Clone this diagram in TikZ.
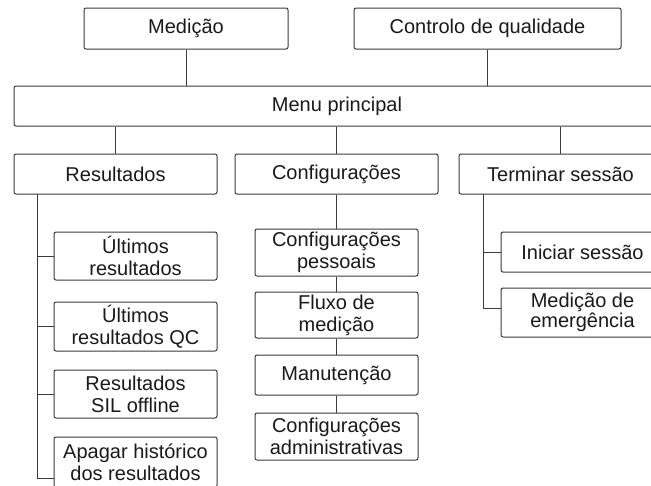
\documentclass[tikz,border=0pt]{standalone}
\usepackage{fontspec}
\setmainfont{Liberation Sans}
\definecolor{linec}{HTML}{3A3A3A}
\definecolor{txtc}{HTML}{1A1A1A}
\begin{document}
\begin{tikzpicture}[x=1pt,y=-1pt,
  box/.style={draw=linec, rounded corners=2pt, line width=1pt, align=center,
    inner sep=0pt, text=txtc, font=\fontsize{20}{22}\selectfont},
  tight/.style={font=\fontsize{20}{17}\selectfont},
  conn/.style={draw=linec, line width=1pt}]
\useasboundingbox (0,0) rectangle (651,485);
\clip (0,0) rectangle (651,485);
\fill[white] (0,0) rectangle (651,485);
% top row
\node[box, minimum width=204pt, minimum height=41pt] (med) at (186,28.5) {Medição};
\node[box, minimum width=267pt, minimum height=41pt] (qc) at (487.5,28.5) {Controlo de qualidade};
\node[box, minimum width=646pt, minimum height=40pt] (menu) at (337,106) {Menu principal};
% second row
\node[box, minimum width=203pt, minimum height=40pt] (res) at (115.5,174) {Resultados};
\node[box, minimum width=203pt, minimum height=40pt] (conf) at (336.5,174) {Configurações};
\node[box, minimum width=203pt, minimum height=40pt] (term) at (560.5,174) {Terminar sessão};
% Resultados children
\node[box, minimum width=163pt, minimum height=48pt] (r1) at (135.5,256) {Últimos\\resultados};
\node[box, minimum width=163pt, minimum height=49pt] (r2) at (135.5,326.5) {Últimos\\resultados QC};
\node[box, minimum width=163pt, minimum height=48pt] (r3) at (135.5,394) {Resultados\\SIL offline};
\node[box, minimum width=163pt, minimum height=50pt] (r4) at (135.5,462) {Apagar histórico\\dos resultados};
% Configuracoes children
\node[box, minimum width=163pt, minimum height=47pt] (c1) at (336.5,252.5) {Configurações\\pessoais};
\node[box, minimum width=163pt, minimum height=46pt] (c2) at (336.5,315) {Fluxo de\\medição};
\node[box, minimum width=163pt, minimum height=40pt] (c3) at (336.5,375) {Manutenção};
\node[box, minimum width=163pt, minimum height=47pt] (c4) at (336.5,436.5) {Configurações\\administrativas};
% Terminar children
\node[box, minimum width=163pt, minimum height=40pt] (t1) at (582.5,252) {Iniciar sessão};
\node[box, tight, minimum width=163pt, minimum height=49pt] (t2) at (582.5,312.5) {Medição de\\emergência};
% junction coordinates
\coordinate (rv) at (37,194);
\coordinate (r4j) at (54,478);
\coordinate (tv) at (483,194);
\coordinate (t2j) at (501,308);
% connectors
\draw[conn] (med.south) -- (med.south |- menu.north);
\draw[conn] (qc.south) -- (qc.south |- menu.north);
\draw[conn] (res.north |- menu.south) -- (res.north);
\draw[conn] (conf.north |- menu.south) -- (conf.north);
\draw[conn] (term.north |- menu.south) -- (term.north);
\draw[conn] (rv) |- (r4j);
\draw[conn] (r1.west) -- (r1.west -| rv);
\draw[conn] (r2.west) -- (r2.west -| rv);
\draw[conn] (r3.west) -- (r3.west -| rv);
\draw[conn] (conf.south) -- (c1.north);
\draw[conn] (c1.south) -- (c2.north);
\draw[conn] (c2.south) -- (c3.north);
\draw[conn] (c3.south) -- (c4.north);
\draw[conn] (tv) |- (t2j);
\draw[conn] (t1.west) -- (t1.west -| tv);
\end{tikzpicture}
\end{document}
